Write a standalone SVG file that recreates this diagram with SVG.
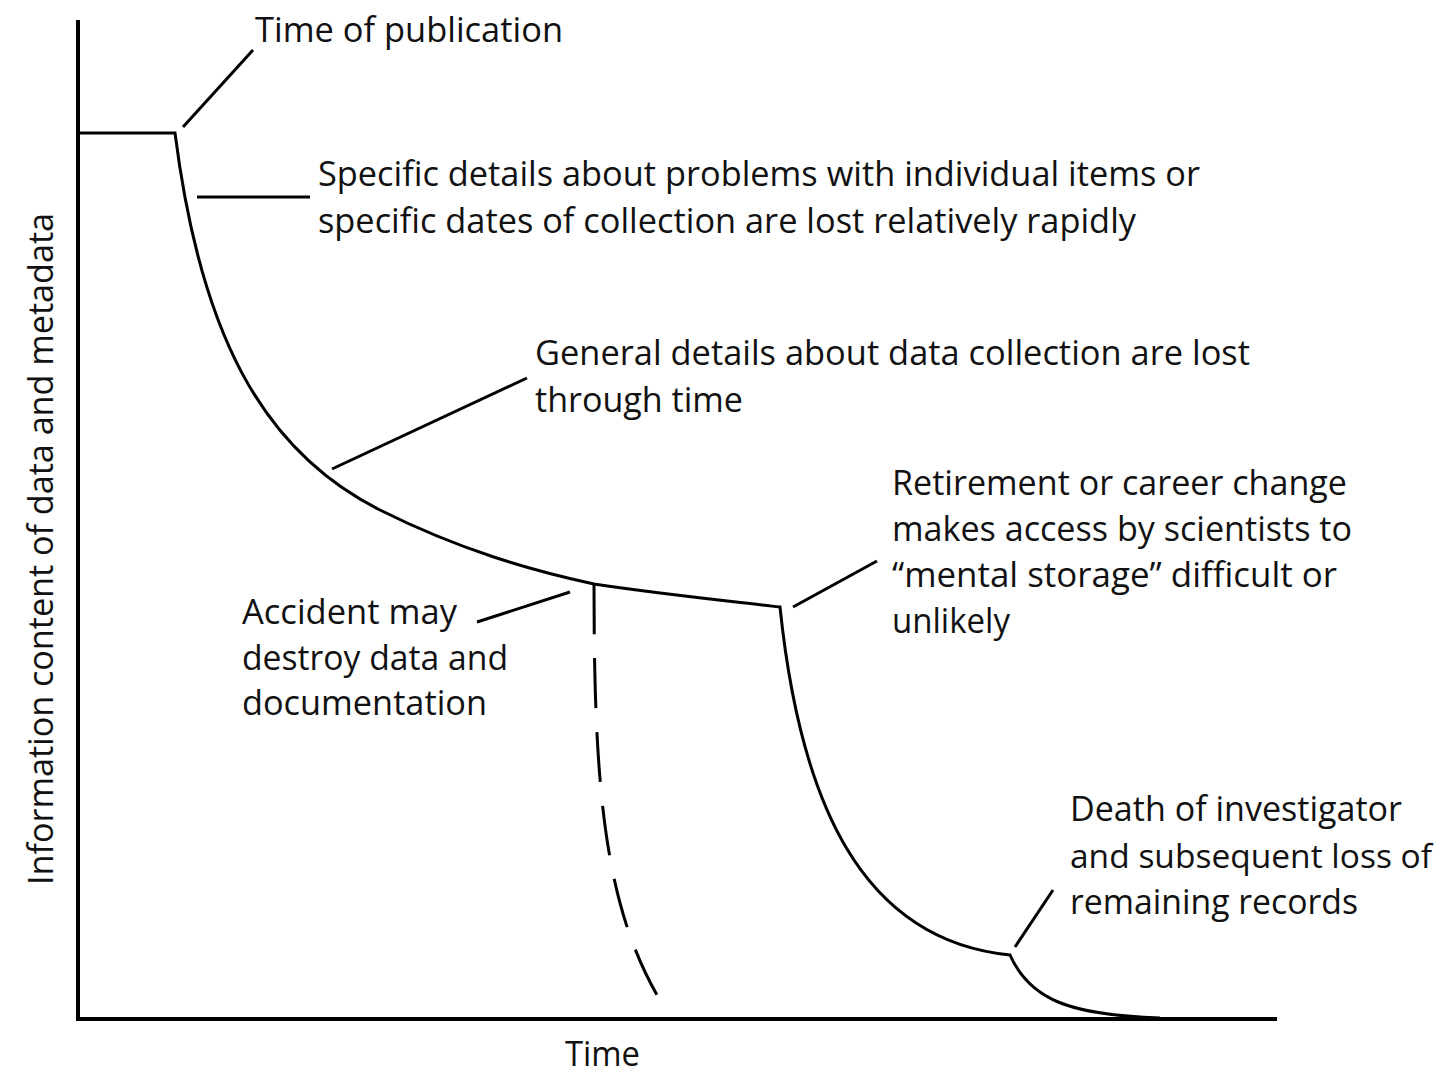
<svg xmlns="http://www.w3.org/2000/svg" width="1443" height="1074" viewBox="0 0 1443 1074">
<style>
.ln{fill:none;stroke:#000;stroke-width:3;stroke-linecap:butt;stroke-linejoin:miter}
.ax{fill:none;stroke:#000;stroke-width:4}
.t{font-family:"Open Sans","Liberation Sans",sans-serif;font-size:35px;fill:#111}
</style>
<rect width="1443" height="1074" fill="#fff"/>
<g id="axes">
<path class="ax" d="M78,20 V1019 H1277"/>
</g>
<g id="curves">
<path class="ln" d="M78,133 H175 C200,330 260,450 380,510 C460,550 530,570 594,584 C660,594 720,600 780,607 C800,800 860,940 1010,955 C1030,1000 1070,1015 1160,1018"/>
<path class="ln" d="M594,584 C594,780 603,900 657,995" stroke-dasharray="50 24"/>
</g>
<g id="connectors">
<line class="ln" x1="183" y1="127" x2="253" y2="50"/>
<line class="ln" x1="197" y1="197" x2="310" y2="197"/>
<line class="ln" x1="332" y1="469" x2="527" y2="378"/>
<line class="ln" x1="477" y1="622" x2="570" y2="592"/>
<line class="ln" x1="793" y1="607" x2="877" y2="561"/>
<line class="ln" x1="1015" y1="947" x2="1053" y2="890"/>
</g>
<g id="label-publication">
<text class="t" x="255" y="42" textLength="308" lengthAdjust="spacingAndGlyphs">Time of publication</text>
</g>
<g id="label-specific">
<text class="t" x="318" y="186" textLength="882" lengthAdjust="spacingAndGlyphs">Specific details about problems with individual items or</text>
<text class="t" x="318" y="233" textLength="818" lengthAdjust="spacingAndGlyphs">specific dates of collection are lost relatively rapidly</text>
</g>
<g id="label-general">
<text class="t" x="535" y="365" textLength="715" lengthAdjust="spacingAndGlyphs">General details about data collection are lost</text>
<text class="t" x="535" y="412" textLength="208" lengthAdjust="spacingAndGlyphs">through time</text>
</g>
<g id="label-retirement">
<text class="t" x="892" y="495" textLength="455" lengthAdjust="spacingAndGlyphs">Retirement or career change</text>
<text class="t" x="892" y="541" textLength="460" lengthAdjust="spacingAndGlyphs">makes access by scientists to</text>
<text class="t" x="892" y="587" textLength="445" lengthAdjust="spacingAndGlyphs">“mental storage” difficult or</text>
<text class="t" x="892" y="633" textLength="118" lengthAdjust="spacingAndGlyphs">unlikely</text>
</g>
<g id="label-accident">
<text class="t" x="242" y="624" textLength="215" lengthAdjust="spacingAndGlyphs">Accident may</text>
<text class="t" x="242" y="670" textLength="266" lengthAdjust="spacingAndGlyphs">destroy data and</text>
<text class="t" x="242" y="715" textLength="245" lengthAdjust="spacingAndGlyphs">documentation</text>
</g>
<g id="label-death">
<text class="t" x="1070" y="821" textLength="332" lengthAdjust="spacingAndGlyphs">Death of investigator</text>
<text class="t" x="1070" y="868" style="font-size:32px" textLength="362" lengthAdjust="spacingAndGlyphs">and subsequent loss of</text>
<text class="t" x="1070" y="914" textLength="288" lengthAdjust="spacingAndGlyphs">remaining records</text>
</g>
<g id="label-xaxis">
<text class="t" x="565" y="1066" textLength="75" lengthAdjust="spacingAndGlyphs">Time</text>
</g>
<g id="label-yaxis">
<text class="t" transform="translate(53,885) rotate(-90)" textLength="672" lengthAdjust="spacingAndGlyphs">Information content of data and metadata</text>
</g>
</svg>
